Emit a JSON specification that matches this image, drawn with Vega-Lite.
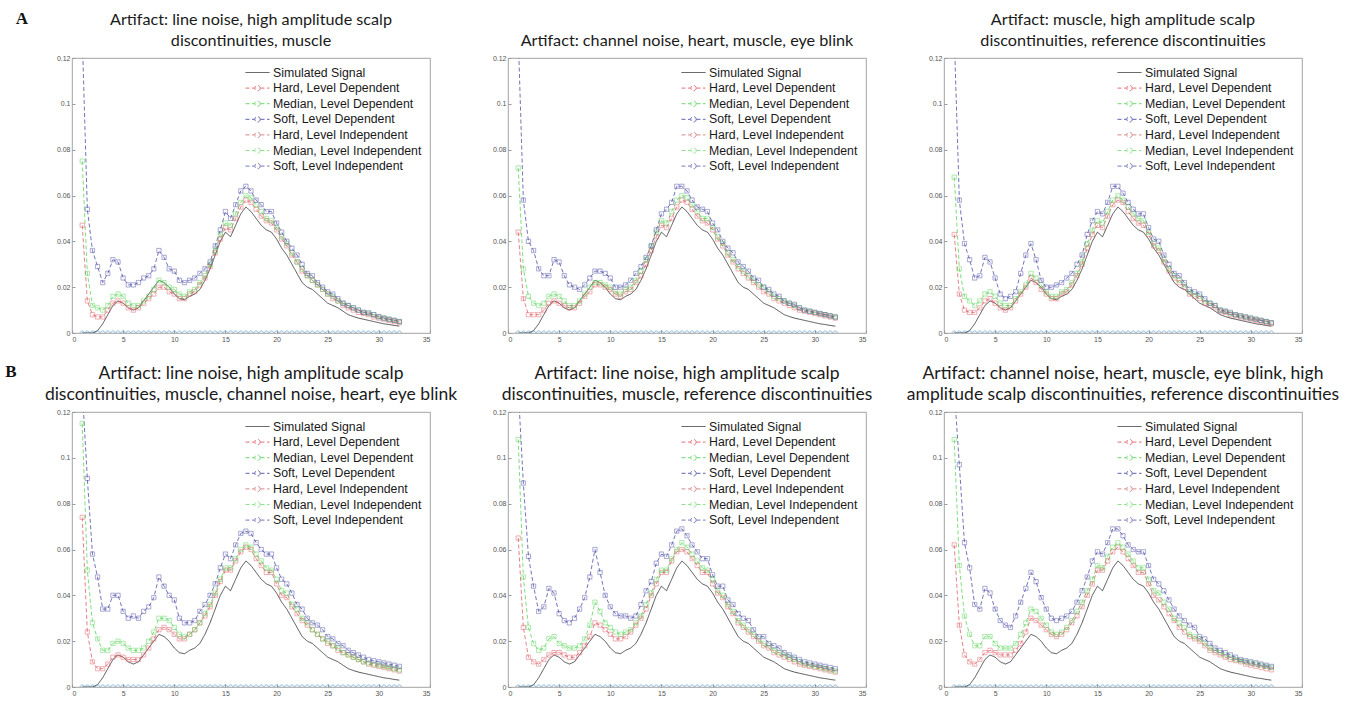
{
"$schema":"https://vega.github.io/schema/vega-lite/v6.json",
"padding":{"left":5,"top":10,"right":5,"bottom":4},
"background":"white",
"config":{
 "view":{"stroke":"#8a8a8a","strokeWidth":0.8},
 "axis":{"labelFontSize":7,"labelColor":"#555","labelFont":"Liberation Sans","grid":false,"domain":false,"tickColor":"#999","tickSize":-3,"labelPadding":5,"title":null},
 "title":{"font":"Lato","fontSize":16.2,"fontWeight":400,"color":"#1a1a1a","lineHeight":21,"offset":5,"anchor":"middle"},
 "legend":{"orient":"top-right","offset":8,"title":null,"padding":0,"labelFont":"Liberation Sans","labelFontSize":12.3,"labelColor":"#1a1a1a","symbolSize":144,"rowPadding":2.6,"labelOffset":9,"symbolStrokeWidth":0.9,"labelLimit":300}
},
"datasets":{"d":[
{"p":"A1","x":1,"s":0,"h":0.047,"m":0.075,"o":0.13},
{"p":"A1","x":1.5,"s":0,"h":0.014,"m":0.026,"o":0.054},
{"p":"A1","x":2,"s":0,"h":0.008,"m":0.012,"o":0.036},
{"p":"A1","x":2.5,"s":0.001,"h":0.007,"m":0.011,"o":0.029},
{"p":"A1","x":3,"s":0.004,"h":0.007,"m":0.010,"o":0.022},
{"p":"A1","x":3.5,"s":0.008,"h":0.010,"m":0.012,"o":0.026},
{"p":"A1","x":4,"s":0.012,"h":0.013,"m":0.016,"o":0.032},
{"p":"A1","x":4.5,"s":0.014,"h":0.014,"m":0.017,"o":0.031},
{"p":"A1","x":5,"s":0.013,"h":0.013,"m":0.016,"o":0.024},
{"p":"A1","x":5.5,"s":0.011,"h":0.011,"m":0.013,"o":0.021},
{"p":"A1","x":6,"s":0.010,"h":0.010,"m":0.012,"o":0.021},
{"p":"A1","x":6.5,"s":0.011,"h":0.011,"m":0.012,"o":0.022},
{"p":"A1","x":7,"s":0.014,"h":0.013,"m":0.014,"o":0.024},
{"p":"A1","x":7.5,"s":0.017,"h":0.015,"m":0.016,"o":0.025},
{"p":"A1","x":8,"s":0.020,"h":0.017,"m":0.019,"o":0.028},
{"p":"A1","x":8.5,"s":0.023,"h":0.020,"m":0.023,"o":0.036},
{"p":"A1","x":9,"s":0.022,"h":0.020,"m":0.022,"o":0.033},
{"p":"A1","x":9.5,"s":0.020,"h":0.018,"m":0.020,"o":0.028},
{"p":"A1","x":10,"s":0.017,"h":0.017,"m":0.019,"o":0.027},
{"p":"A1","x":10.5,"s":0.015,"h":0.015,"m":0.017,"o":0.023},
{"p":"A1","x":11,"s":0.0145,"h":0.015,"m":0.016,"o":0.022},
{"p":"A1","x":11.5,"s":0.016,"h":0.017,"m":0.018,"o":0.023},
{"p":"A1","x":12,"s":0.017,"h":0.018,"m":0.019,"o":0.024},
{"p":"A1","x":12.5,"s":0.019,"h":0.021,"m":0.022,"o":0.026},
{"p":"A1","x":13,"s":0.023,"h":0.024,"m":0.025,"o":0.028},
{"p":"A1","x":13.5,"s":0.028,"h":0.029,"m":0.030,"o":0.031},
{"p":"A1","x":14,"s":0.034,"h":0.035,"m":0.036,"o":0.038},
{"p":"A1","x":14.5,"s":0.040,"h":0.041,"m":0.043,"o":0.045},
{"p":"A1","x":15,"s":0.044,"h":0.046,"m":0.048,"o":0.053},
{"p":"A1","x":15.5,"s":0.042,"h":0.045,"m":0.047,"o":0.050},
{"p":"A1","x":16,"s":0.047,"h":0.050,"m":0.052,"o":0.056},
{"p":"A1","x":16.5,"s":0.052,"h":0.055,"m":0.057,"o":0.062},
{"p":"A1","x":17,"s":0.055,"h":0.058,"m":0.060,"o":0.064},
{"p":"A1","x":17.5,"s":0.053,"h":0.057,"m":0.059,"o":0.062},
{"p":"A1","x":18,"s":0.050,"h":0.054,"m":0.056,"o":0.058},
{"p":"A1","x":18.5,"s":0.047,"h":0.051,"m":0.053,"o":0.056},
{"p":"A1","x":19,"s":0.045,"h":0.049,"m":0.050,"o":0.053},
{"p":"A1","x":19.5,"s":0.044,"h":0.048,"m":0.049,"o":0.053},
{"p":"A1","x":20,"s":0.041,"h":0.045,"m":0.046,"o":0.048},
{"p":"A1","x":20.5,"s":0.037,"h":0.041,"m":0.042,"o":0.044},
{"p":"A1","x":21,"s":0.034,"h":0.038,"m":0.039,"o":0.040},
{"p":"A1","x":21.5,"s":0.030,"h":0.034,"m":0.035,"o":0.037},
{"p":"A1","x":22,"s":0.026,"h":0.031,"m":0.031,"o":0.034},
{"p":"A1","x":22.5,"s":0.022,"h":0.027,"m":0.028,"o":0.030},
{"p":"A1","x":23,"s":0.020,"h":0.025,"m":0.025,"o":0.026},
{"p":"A1","x":23.5,"s":0.019,"h":0.023,"m":0.023,"o":0.025},
{"p":"A1","x":24,"s":0.017,"h":0.021,"m":0.021,"o":0.022},
{"p":"A1","x":24.5,"s":0.015,"h":0.019,"m":0.019,"o":0.020},
{"p":"A1","x":25,"s":0.013,"h":0.017,"m":0.017,"o":0.018},
{"p":"A1","x":25.5,"s":0.012,"h":0.015,"m":0.016,"o":0.017},
{"p":"A1","x":26,"s":0.011,"h":0.014,"m":0.014,"o":0.015},
{"p":"A1","x":26.5,"s":0.0095,"h":0.012,"m":0.013,"o":0.013},
{"p":"A1","x":27,"s":0.008,"h":0.011,"m":0.012,"o":0.012},
{"p":"A1","x":27.5,"s":0.0072,"h":0.010,"m":0.011,"o":0.011},
{"p":"A1","x":28,"s":0.0065,"h":0.009,"m":0.010,"o":0.010},
{"p":"A1","x":28.5,"s":0.006,"h":0.0085,"m":0.009,"o":0.009},
{"p":"A1","x":29,"s":0.0055,"h":0.008,"m":0.0085,"o":0.0088},
{"p":"A1","x":29.5,"s":0.005,"h":0.007,"m":0.008,"o":0.008},
{"p":"A1","x":30,"s":0.0045,"h":0.0065,"m":0.007,"o":0.0072},
{"p":"A1","x":30.5,"s":0.004,"h":0.006,"m":0.0065,"o":0.0065},
{"p":"A1","x":31,"s":0.0037,"h":0.0055,"m":0.006,"o":0.006},
{"p":"A1","x":31.5,"s":0.0033,"h":0.005,"m":0.0055,"o":0.0055},
{"p":"A1","x":32,"s":0.003,"h":0.0045,"m":0.005,"o":0.005},
{"p":"A2","x":1,"s":0,"h":0.044,"m":0.072,"o":0.13},
{"p":"A2","x":1.5,"s":0,"h":0.015,"m":0.028,"o":0.058},
{"p":"A2","x":2,"s":0,"h":0.008,"m":0.016,"o":0.040},
{"p":"A2","x":2.5,"s":0.001,"h":0.008,"m":0.013,"o":0.036},
{"p":"A2","x":3,"s":0.004,"h":0.008,"m":0.012,"o":0.028},
{"p":"A2","x":3.5,"s":0.008,"h":0.010,"m":0.013,"o":0.025},
{"p":"A2","x":4,"s":0.012,"h":0.013,"m":0.016,"o":0.025},
{"p":"A2","x":4.5,"s":0.014,"h":0.014,"m":0.017,"o":0.032},
{"p":"A2","x":5,"s":0.013,"h":0.013,"m":0.016,"o":0.031},
{"p":"A2","x":5.5,"s":0.011,"h":0.012,"m":0.014,"o":0.025},
{"p":"A2","x":6,"s":0.010,"h":0.011,"m":0.012,"o":0.021},
{"p":"A2","x":6.5,"s":0.011,"h":0.011,"m":0.012,"o":0.020},
{"p":"A2","x":7,"s":0.014,"h":0.013,"m":0.014,"o":0.019},
{"p":"A2","x":7.5,"s":0.017,"h":0.016,"m":0.017,"o":0.021},
{"p":"A2","x":8,"s":0.020,"h":0.018,"m":0.020,"o":0.024},
{"p":"A2","x":8.5,"s":0.023,"h":0.021,"m":0.022,"o":0.027},
{"p":"A2","x":9,"s":0.022,"h":0.021,"m":0.022,"o":0.027},
{"p":"A2","x":9.5,"s":0.020,"h":0.020,"m":0.021,"o":0.026},
{"p":"A2","x":10,"s":0.017,"h":0.019,"m":0.020,"o":0.024},
{"p":"A2","x":10.5,"s":0.015,"h":0.017,"m":0.018,"o":0.020},
{"p":"A2","x":11,"s":0.0145,"h":0.016,"m":0.017,"o":0.020},
{"p":"A2","x":11.5,"s":0.016,"h":0.018,"m":0.019,"o":0.021},
{"p":"A2","x":12,"s":0.017,"h":0.019,"m":0.020,"o":0.023},
{"p":"A2","x":12.5,"s":0.019,"h":0.022,"m":0.023,"o":0.026},
{"p":"A2","x":13,"s":0.023,"h":0.025,"m":0.027,"o":0.029},
{"p":"A2","x":13.5,"s":0.028,"h":0.030,"m":0.032,"o":0.033},
{"p":"A2","x":14,"s":0.034,"h":0.036,"m":0.038,"o":0.038},
{"p":"A2","x":14.5,"s":0.040,"h":0.042,"m":0.044,"o":0.045},
{"p":"A2","x":15,"s":0.044,"h":0.047,"m":0.049,"o":0.052},
{"p":"A2","x":15.5,"s":0.042,"h":0.046,"m":0.048,"o":0.054},
{"p":"A2","x":16,"s":0.047,"h":0.050,"m":0.053,"o":0.057},
{"p":"A2","x":16.5,"s":0.052,"h":0.055,"m":0.058,"o":0.064},
{"p":"A2","x":17,"s":0.055,"h":0.058,"m":0.060,"o":0.064},
{"p":"A2","x":17.5,"s":0.053,"h":0.057,"m":0.059,"o":0.062},
{"p":"A2","x":18,"s":0.050,"h":0.054,"m":0.056,"o":0.058},
{"p":"A2","x":18.5,"s":0.047,"h":0.051,"m":0.053,"o":0.055},
{"p":"A2","x":19,"s":0.045,"h":0.049,"m":0.050,"o":0.054},
{"p":"A2","x":19.5,"s":0.044,"h":0.048,"m":0.050,"o":0.053},
{"p":"A2","x":20,"s":0.041,"h":0.045,"m":0.046,"o":0.048},
{"p":"A2","x":20.5,"s":0.037,"h":0.041,"m":0.042,"o":0.045},
{"p":"A2","x":21,"s":0.034,"h":0.038,"m":0.039,"o":0.040},
{"p":"A2","x":21.5,"s":0.030,"h":0.034,"m":0.035,"o":0.037},
{"p":"A2","x":22,"s":0.026,"h":0.031,"m":0.032,"o":0.035},
{"p":"A2","x":22.5,"s":0.022,"h":0.028,"m":0.029,"o":0.031},
{"p":"A2","x":23,"s":0.020,"h":0.026,"m":0.027,"o":0.029},
{"p":"A2","x":23.5,"s":0.019,"h":0.024,"m":0.025,"o":0.027},
{"p":"A2","x":24,"s":0.017,"h":0.022,"m":0.023,"o":0.024},
{"p":"A2","x":24.5,"s":0.015,"h":0.020,"m":0.021,"o":0.023},
{"p":"A2","x":25,"s":0.013,"h":0.018,"m":0.020,"o":0.020},
{"p":"A2","x":25.5,"s":0.012,"h":0.017,"m":0.018,"o":0.019},
{"p":"A2","x":26,"s":0.011,"h":0.015,"m":0.016,"o":0.017},
{"p":"A2","x":26.5,"s":0.0095,"h":0.014,"m":0.015,"o":0.016},
{"p":"A2","x":27,"s":0.008,"h":0.013,"m":0.014,"o":0.014},
{"p":"A2","x":27.5,"s":0.0072,"h":0.012,"m":0.013,"o":0.013},
{"p":"A2","x":28,"s":0.0065,"h":0.011,"m":0.012,"o":0.0125},
{"p":"A2","x":28.5,"s":0.006,"h":0.010,"m":0.011,"o":0.011},
{"p":"A2","x":29,"s":0.0055,"h":0.0095,"m":0.010,"o":0.010},
{"p":"A2","x":29.5,"s":0.005,"h":0.009,"m":0.0095,"o":0.0095},
{"p":"A2","x":30,"s":0.0045,"h":0.0085,"m":0.009,"o":0.009},
{"p":"A2","x":30.5,"s":0.004,"h":0.008,"m":0.0085,"o":0.0085},
{"p":"A2","x":31,"s":0.0037,"h":0.0075,"m":0.008,"o":0.008},
{"p":"A2","x":31.5,"s":0.0033,"h":0.007,"m":0.0075,"o":0.0075},
{"p":"A2","x":32,"s":0.003,"h":0.0065,"m":0.007,"o":0.007},
{"p":"A3","x":1,"s":0,"h":0.043,"m":0.068,"o":0.13},
{"p":"A3","x":1.5,"s":0,"h":0.017,"m":0.028,"o":0.058},
{"p":"A3","x":2,"s":0,"h":0.010,"m":0.016,"o":0.039},
{"p":"A3","x":2.5,"s":0.001,"h":0.009,"m":0.014,"o":0.032},
{"p":"A3","x":3,"s":0.004,"h":0.009,"m":0.012,"o":0.024},
{"p":"A3","x":3.5,"s":0.008,"h":0.011,"m":0.014,"o":0.025},
{"p":"A3","x":4,"s":0.012,"h":0.014,"m":0.017,"o":0.033},
{"p":"A3","x":4.5,"s":0.014,"h":0.015,"m":0.018,"o":0.031},
{"p":"A3","x":5,"s":0.013,"h":0.013,"m":0.016,"o":0.024},
{"p":"A3","x":5.5,"s":0.011,"h":0.011,"m":0.013,"o":0.017},
{"p":"A3","x":6,"s":0.010,"h":0.010,"m":0.012,"o":0.015},
{"p":"A3","x":6.5,"s":0.011,"h":0.011,"m":0.012,"o":0.016},
{"p":"A3","x":7,"s":0.014,"h":0.014,"m":0.015,"o":0.018},
{"p":"A3","x":7.5,"s":0.017,"h":0.017,"m":0.018,"o":0.026},
{"p":"A3","x":8,"s":0.020,"h":0.020,"m":0.021,"o":0.034},
{"p":"A3","x":8.5,"s":0.023,"h":0.024,"m":0.026,"o":0.039},
{"p":"A3","x":9,"s":0.022,"h":0.022,"m":0.024,"o":0.032},
{"p":"A3","x":9.5,"s":0.020,"h":0.019,"m":0.021,"o":0.023},
{"p":"A3","x":10,"s":0.017,"h":0.017,"m":0.018,"o":0.020},
{"p":"A3","x":10.5,"s":0.015,"h":0.015,"m":0.016,"o":0.020},
{"p":"A3","x":11,"s":0.0145,"h":0.015,"m":0.016,"o":0.021},
{"p":"A3","x":11.5,"s":0.016,"h":0.017,"m":0.018,"o":0.022},
{"p":"A3","x":12,"s":0.017,"h":0.018,"m":0.019,"o":0.024},
{"p":"A3","x":12.5,"s":0.019,"h":0.021,"m":0.022,"o":0.026},
{"p":"A3","x":13,"s":0.023,"h":0.025,"m":0.026,"o":0.030},
{"p":"A3","x":13.5,"s":0.028,"h":0.030,"m":0.031,"o":0.034},
{"p":"A3","x":14,"s":0.034,"h":0.037,"m":0.039,"o":0.043},
{"p":"A3","x":14.5,"s":0.040,"h":0.043,"m":0.045,"o":0.049},
{"p":"A3","x":15,"s":0.044,"h":0.047,"m":0.049,"o":0.053},
{"p":"A3","x":15.5,"s":0.042,"h":0.046,"m":0.048,"o":0.052},
{"p":"A3","x":16,"s":0.047,"h":0.051,"m":0.053,"o":0.057},
{"p":"A3","x":16.5,"s":0.052,"h":0.056,"m":0.058,"o":0.064},
{"p":"A3","x":17,"s":0.055,"h":0.058,"m":0.060,"o":0.064},
{"p":"A3","x":17.5,"s":0.053,"h":0.057,"m":0.058,"o":0.061},
{"p":"A3","x":18,"s":0.050,"h":0.053,"m":0.055,"o":0.057},
{"p":"A3","x":18.5,"s":0.047,"h":0.050,"m":0.052,"o":0.054},
{"p":"A3","x":19,"s":0.045,"h":0.048,"m":0.050,"o":0.052},
{"p":"A3","x":19.5,"s":0.044,"h":0.047,"m":0.049,"o":0.052},
{"p":"A3","x":20,"s":0.041,"h":0.043,"m":0.044,"o":0.046},
{"p":"A3","x":20.5,"s":0.037,"h":0.038,"m":0.039,"o":0.041},
{"p":"A3","x":21,"s":0.034,"h":0.036,"m":0.037,"o":0.040},
{"p":"A3","x":21.5,"s":0.030,"h":0.031,"m":0.032,"o":0.034},
{"p":"A3","x":22,"s":0.026,"h":0.027,"m":0.028,"o":0.030},
{"p":"A3","x":22.5,"s":0.022,"h":0.024,"m":0.025,"o":0.026},
{"p":"A3","x":23,"s":0.020,"h":0.022,"m":0.023,"o":0.025},
{"p":"A3","x":23.5,"s":0.019,"h":0.020,"m":0.021,"o":0.022},
{"p":"A3","x":24,"s":0.017,"h":0.017,"m":0.018,"o":0.019},
{"p":"A3","x":24.5,"s":0.015,"h":0.016,"m":0.017,"o":0.018},
{"p":"A3","x":25,"s":0.013,"h":0.015,"m":0.016,"o":0.017},
{"p":"A3","x":25.5,"s":0.012,"h":0.013,"m":0.014,"o":0.015},
{"p":"A3","x":26,"s":0.011,"h":0.012,"m":0.013,"o":0.013},
{"p":"A3","x":26.5,"s":0.0095,"h":0.011,"m":0.012,"o":0.012},
{"p":"A3","x":27,"s":0.008,"h":0.0095,"m":0.010,"o":0.010},
{"p":"A3","x":27.5,"s":0.0072,"h":0.009,"m":0.0095,"o":0.0095},
{"p":"A3","x":28,"s":0.0065,"h":0.008,"m":0.0085,"o":0.009},
{"p":"A3","x":28.5,"s":0.006,"h":0.0075,"m":0.008,"o":0.008},
{"p":"A3","x":29,"s":0.0055,"h":0.007,"m":0.0075,"o":0.0075},
{"p":"A3","x":29.5,"s":0.005,"h":0.0065,"m":0.007,"o":0.007},
{"p":"A3","x":30,"s":0.0045,"h":0.006,"m":0.0065,"o":0.0065},
{"p":"A3","x":30.5,"s":0.004,"h":0.0055,"m":0.006,"o":0.006},
{"p":"A3","x":31,"s":0.0037,"h":0.005,"m":0.0055,"o":0.0055},
{"p":"A3","x":31.5,"s":0.0033,"h":0.0045,"m":0.005,"o":0.005},
{"p":"A3","x":32,"s":0.003,"h":0.004,"m":0.0045,"o":0.0045},
{"p":"B1","x":1,"s":0,"h":0.074,"m":0.115,"o":0.13},
{"p":"B1","x":1.5,"s":0,"h":0.024,"m":0.051,"o":0.091},
{"p":"B1","x":2,"s":0,"h":0.011,"m":0.028,"o":0.058},
{"p":"B1","x":2.5,"s":0.001,"h":0.008,"m":0.021,"o":0.048},
{"p":"B1","x":3,"s":0.004,"h":0.008,"m":0.016,"o":0.034},
{"p":"B1","x":3.5,"s":0.008,"h":0.010,"m":0.016,"o":0.034},
{"p":"B1","x":4,"s":0.012,"h":0.013,"m":0.019,"o":0.040},
{"p":"B1","x":4.5,"s":0.014,"h":0.014,"m":0.020,"o":0.040},
{"p":"B1","x":5,"s":0.013,"h":0.013,"m":0.019,"o":0.033},
{"p":"B1","x":5.5,"s":0.011,"h":0.012,"m":0.017,"o":0.030},
{"p":"B1","x":6,"s":0.010,"h":0.012,"m":0.016,"o":0.031},
{"p":"B1","x":6.5,"s":0.011,"h":0.012,"m":0.016,"o":0.030},
{"p":"B1","x":7,"s":0.014,"h":0.014,"m":0.017,"o":0.033},
{"p":"B1","x":7.5,"s":0.017,"h":0.017,"m":0.020,"o":0.035},
{"p":"B1","x":8,"s":0.020,"h":0.021,"m":0.024,"o":0.039},
{"p":"B1","x":8.5,"s":0.023,"h":0.025,"m":0.030,"o":0.048},
{"p":"B1","x":9,"s":0.022,"h":0.026,"m":0.030,"o":0.044},
{"p":"B1","x":9.5,"s":0.020,"h":0.025,"m":0.029,"o":0.040},
{"p":"B1","x":10,"s":0.017,"h":0.023,"m":0.026,"o":0.038},
{"p":"B1","x":10.5,"s":0.015,"h":0.021,"m":0.023,"o":0.030},
{"p":"B1","x":11,"s":0.0145,"h":0.021,"m":0.022,"o":0.028},
{"p":"B1","x":11.5,"s":0.016,"h":0.023,"m":0.023,"o":0.028},
{"p":"B1","x":12,"s":0.017,"h":0.025,"m":0.025,"o":0.029},
{"p":"B1","x":12.5,"s":0.019,"h":0.028,"m":0.028,"o":0.033},
{"p":"B1","x":13,"s":0.023,"h":0.031,"m":0.032,"o":0.036},
{"p":"B1","x":13.5,"s":0.028,"h":0.035,"m":0.036,"o":0.040},
{"p":"B1","x":14,"s":0.034,"h":0.040,"m":0.041,"o":0.045},
{"p":"B1","x":14.5,"s":0.040,"h":0.046,"m":0.047,"o":0.052},
{"p":"B1","x":15,"s":0.044,"h":0.051,"m":0.052,"o":0.058},
{"p":"B1","x":15.5,"s":0.042,"h":0.051,"m":0.052,"o":0.056},
{"p":"B1","x":16,"s":0.047,"h":0.055,"m":0.056,"o":0.062},
{"p":"B1","x":16.5,"s":0.052,"h":0.059,"m":0.060,"o":0.067},
{"p":"B1","x":17,"s":0.055,"h":0.061,"m":0.062,"o":0.068},
{"p":"B1","x":17.5,"s":0.053,"h":0.060,"m":0.061,"o":0.067},
{"p":"B1","x":18,"s":0.050,"h":0.056,"m":0.058,"o":0.063},
{"p":"B1","x":18.5,"s":0.047,"h":0.053,"m":0.055,"o":0.060},
{"p":"B1","x":19,"s":0.045,"h":0.050,"m":0.052,"o":0.058},
{"p":"B1","x":19.5,"s":0.044,"h":0.050,"m":0.051,"o":0.058},
{"p":"B1","x":20,"s":0.041,"h":0.045,"m":0.047,"o":0.052},
{"p":"B1","x":20.5,"s":0.037,"h":0.040,"m":0.042,"o":0.047},
{"p":"B1","x":21,"s":0.034,"h":0.039,"m":0.041,"o":0.045},
{"p":"B1","x":21.5,"s":0.030,"h":0.035,"m":0.036,"o":0.041},
{"p":"B1","x":22,"s":0.026,"h":0.032,"m":0.034,"o":0.036},
{"p":"B1","x":22.5,"s":0.022,"h":0.029,"m":0.030,"o":0.034},
{"p":"B1","x":23,"s":0.020,"h":0.027,"m":0.028,"o":0.030},
{"p":"B1","x":23.5,"s":0.019,"h":0.025,"m":0.025,"o":0.028},
{"p":"B1","x":24,"s":0.017,"h":0.023,"m":0.023,"o":0.027},
{"p":"B1","x":24.5,"s":0.015,"h":0.021,"m":0.021,"o":0.025},
{"p":"B1","x":25,"s":0.013,"h":0.019,"m":0.020,"o":0.022},
{"p":"B1","x":25.5,"s":0.012,"h":0.018,"m":0.018,"o":0.021},
{"p":"B1","x":26,"s":0.011,"h":0.016,"m":0.017,"o":0.019},
{"p":"B1","x":26.5,"s":0.0095,"h":0.015,"m":0.015,"o":0.018},
{"p":"B1","x":27,"s":0.008,"h":0.014,"m":0.014,"o":0.016},
{"p":"B1","x":27.5,"s":0.0072,"h":0.013,"m":0.013,"o":0.015},
{"p":"B1","x":28,"s":0.0065,"h":0.012,"m":0.012,"o":0.014},
{"p":"B1","x":28.5,"s":0.006,"h":0.011,"m":0.011,"o":0.013},
{"p":"B1","x":29,"s":0.0055,"h":0.010,"m":0.0105,"o":0.012},
{"p":"B1","x":29.5,"s":0.005,"h":0.0095,"m":0.010,"o":0.0115},
{"p":"B1","x":30,"s":0.0045,"h":0.009,"m":0.0095,"o":0.011},
{"p":"B1","x":30.5,"s":0.004,"h":0.0085,"m":0.009,"o":0.0105},
{"p":"B1","x":31,"s":0.0037,"h":0.008,"m":0.0085,"o":0.010},
{"p":"B1","x":31.5,"s":0.0033,"h":0.0075,"m":0.008,"o":0.0095},
{"p":"B1","x":32,"s":0.003,"h":0.007,"m":0.0075,"o":0.009},
{"p":"B2","x":1,"s":0,"h":0.065,"m":0.108,"o":0.13},
{"p":"B2","x":1.5,"s":0,"h":0.026,"m":0.048,"o":0.089},
{"p":"B2","x":2,"s":0,"h":0.013,"m":0.026,"o":0.057},
{"p":"B2","x":2.5,"s":0.001,"h":0.011,"m":0.019,"o":0.044},
{"p":"B2","x":3,"s":0.004,"h":0.010,"m":0.016,"o":0.033},
{"p":"B2","x":3.5,"s":0.008,"h":0.012,"m":0.017,"o":0.035},
{"p":"B2","x":4,"s":0.012,"h":0.014,"m":0.021,"o":0.043},
{"p":"B2","x":4.5,"s":0.014,"h":0.015,"m":0.022,"o":0.041},
{"p":"B2","x":5,"s":0.013,"h":0.015,"m":0.019,"o":0.032},
{"p":"B2","x":5.5,"s":0.011,"h":0.014,"m":0.018,"o":0.029},
{"p":"B2","x":6,"s":0.010,"h":0.013,"m":0.017,"o":0.028},
{"p":"B2","x":6.5,"s":0.011,"h":0.013,"m":0.017,"o":0.030},
{"p":"B2","x":7,"s":0.014,"h":0.015,"m":0.018,"o":0.034},
{"p":"B2","x":7.5,"s":0.017,"h":0.018,"m":0.021,"o":0.039},
{"p":"B2","x":8,"s":0.020,"h":0.022,"m":0.027,"o":0.048},
{"p":"B2","x":8.5,"s":0.023,"h":0.028,"m":0.037,"o":0.060},
{"p":"B2","x":9,"s":0.022,"h":0.027,"m":0.033,"o":0.050},
{"p":"B2","x":9.5,"s":0.020,"h":0.025,"m":0.028,"o":0.040},
{"p":"B2","x":10,"s":0.017,"h":0.023,"m":0.026,"o":0.035},
{"p":"B2","x":10.5,"s":0.015,"h":0.021,"m":0.024,"o":0.032},
{"p":"B2","x":11,"s":0.0145,"h":0.021,"m":0.023,"o":0.031},
{"p":"B2","x":11.5,"s":0.016,"h":0.022,"m":0.024,"o":0.031},
{"p":"B2","x":12,"s":0.017,"h":0.024,"m":0.025,"o":0.030},
{"p":"B2","x":12.5,"s":0.019,"h":0.027,"m":0.028,"o":0.031},
{"p":"B2","x":13,"s":0.023,"h":0.030,"m":0.031,"o":0.036},
{"p":"B2","x":13.5,"s":0.028,"h":0.034,"m":0.036,"o":0.042},
{"p":"B2","x":14,"s":0.034,"h":0.040,"m":0.041,"o":0.046},
{"p":"B2","x":14.5,"s":0.040,"h":0.045,"m":0.047,"o":0.054},
{"p":"B2","x":15,"s":0.044,"h":0.050,"m":0.051,"o":0.058},
{"p":"B2","x":15.5,"s":0.042,"h":0.050,"m":0.051,"o":0.057},
{"p":"B2","x":16,"s":0.047,"h":0.055,"m":0.056,"o":0.062},
{"p":"B2","x":16.5,"s":0.052,"h":0.059,"m":0.060,"o":0.068},
{"p":"B2","x":17,"s":0.055,"h":0.060,"m":0.063,"o":0.069},
{"p":"B2","x":17.5,"s":0.053,"h":0.059,"m":0.061,"o":0.066},
{"p":"B2","x":18,"s":0.050,"h":0.056,"m":0.058,"o":0.062},
{"p":"B2","x":18.5,"s":0.047,"h":0.053,"m":0.055,"o":0.059},
{"p":"B2","x":19,"s":0.045,"h":0.050,"m":0.052,"o":0.056},
{"p":"B2","x":19.5,"s":0.044,"h":0.050,"m":0.051,"o":0.056},
{"p":"B2","x":20,"s":0.041,"h":0.045,"m":0.047,"o":0.049},
{"p":"B2","x":20.5,"s":0.037,"h":0.041,"m":0.042,"o":0.044},
{"p":"B2","x":21,"s":0.034,"h":0.039,"m":0.040,"o":0.044},
{"p":"B2","x":21.5,"s":0.030,"h":0.035,"m":0.036,"o":0.038},
{"p":"B2","x":22,"s":0.026,"h":0.032,"m":0.033,"o":0.036},
{"p":"B2","x":22.5,"s":0.022,"h":0.028,"m":0.029,"o":0.032},
{"p":"B2","x":23,"s":0.020,"h":0.026,"m":0.027,"o":0.030},
{"p":"B2","x":23.5,"s":0.019,"h":0.024,"m":0.025,"o":0.029},
{"p":"B2","x":24,"s":0.017,"h":0.022,"m":0.023,"o":0.025},
{"p":"B2","x":24.5,"s":0.015,"h":0.020,"m":0.021,"o":0.022},
{"p":"B2","x":25,"s":0.013,"h":0.018,"m":0.019,"o":0.022},
{"p":"B2","x":25.5,"s":0.012,"h":0.017,"m":0.018,"o":0.019},
{"p":"B2","x":26,"s":0.011,"h":0.015,"m":0.016,"o":0.018},
{"p":"B2","x":26.5,"s":0.0095,"h":0.014,"m":0.015,"o":0.017},
{"p":"B2","x":27,"s":0.008,"h":0.013,"m":0.014,"o":0.015},
{"p":"B2","x":27.5,"s":0.0072,"h":0.012,"m":0.013,"o":0.014},
{"p":"B2","x":28,"s":0.0065,"h":0.011,"m":0.012,"o":0.013},
{"p":"B2","x":28.5,"s":0.006,"h":0.010,"m":0.011,"o":0.012},
{"p":"B2","x":29,"s":0.0055,"h":0.0095,"m":0.010,"o":0.011},
{"p":"B2","x":29.5,"s":0.005,"h":0.009,"m":0.0095,"o":0.0105},
{"p":"B2","x":30,"s":0.0045,"h":0.0085,"m":0.009,"o":0.010},
{"p":"B2","x":30.5,"s":0.004,"h":0.008,"m":0.0085,"o":0.0095},
{"p":"B2","x":31,"s":0.0037,"h":0.0075,"m":0.008,"o":0.009},
{"p":"B2","x":31.5,"s":0.0033,"h":0.007,"m":0.0075,"o":0.0085},
{"p":"B2","x":32,"s":0.003,"h":0.0065,"m":0.007,"o":0.008},
{"p":"B3","x":1,"s":0,"h":0.062,"m":0.108,"o":0.13},
{"p":"B3","x":1.5,"s":0,"h":0.027,"m":0.053,"o":0.097},
{"p":"B3","x":2,"s":0,"h":0.014,"m":0.031,"o":0.063},
{"p":"B3","x":2.5,"s":0.001,"h":0.011,"m":0.023,"o":0.052},
{"p":"B3","x":3,"s":0.004,"h":0.010,"m":0.018,"o":0.036},
{"p":"B3","x":3.5,"s":0.008,"h":0.012,"m":0.018,"o":0.034},
{"p":"B3","x":4,"s":0.012,"h":0.015,"m":0.022,"o":0.043},
{"p":"B3","x":4.5,"s":0.014,"h":0.016,"m":0.022,"o":0.041},
{"p":"B3","x":5,"s":0.013,"h":0.015,"m":0.019,"o":0.034},
{"p":"B3","x":5.5,"s":0.011,"h":0.014,"m":0.017,"o":0.029},
{"p":"B3","x":6,"s":0.010,"h":0.014,"m":0.017,"o":0.027},
{"p":"B3","x":6.5,"s":0.011,"h":0.014,"m":0.017,"o":0.026},
{"p":"B3","x":7,"s":0.014,"h":0.016,"m":0.019,"o":0.031},
{"p":"B3","x":7.5,"s":0.017,"h":0.019,"m":0.023,"o":0.037},
{"p":"B3","x":8,"s":0.020,"h":0.024,"m":0.028,"o":0.043},
{"p":"B3","x":8.5,"s":0.023,"h":0.030,"m":0.034,"o":0.050},
{"p":"B3","x":9,"s":0.022,"h":0.029,"m":0.033,"o":0.046},
{"p":"B3","x":9.5,"s":0.020,"h":0.027,"m":0.030,"o":0.039},
{"p":"B3","x":10,"s":0.017,"h":0.025,"m":0.027,"o":0.034},
{"p":"B3","x":10.5,"s":0.015,"h":0.023,"m":0.024,"o":0.030},
{"p":"B3","x":11,"s":0.0145,"h":0.022,"m":0.023,"o":0.029},
{"p":"B3","x":11.5,"s":0.016,"h":0.023,"m":0.024,"o":0.030},
{"p":"B3","x":12,"s":0.017,"h":0.025,"m":0.026,"o":0.031},
{"p":"B3","x":12.5,"s":0.019,"h":0.028,"m":0.029,"o":0.033},
{"p":"B3","x":13,"s":0.023,"h":0.031,"m":0.033,"o":0.037},
{"p":"B3","x":13.5,"s":0.028,"h":0.035,"m":0.037,"o":0.042},
{"p":"B3","x":14,"s":0.034,"h":0.040,"m":0.042,"o":0.048},
{"p":"B3","x":14.5,"s":0.040,"h":0.045,"m":0.047,"o":0.055},
{"p":"B3","x":15,"s":0.044,"h":0.051,"m":0.053,"o":0.059},
{"p":"B3","x":15.5,"s":0.042,"h":0.051,"m":0.052,"o":0.058},
{"p":"B3","x":16,"s":0.047,"h":0.055,"m":0.057,"o":0.063},
{"p":"B3","x":16.5,"s":0.052,"h":0.059,"m":0.061,"o":0.069},
{"p":"B3","x":17,"s":0.055,"h":0.061,"m":0.063,"o":0.069},
{"p":"B3","x":17.5,"s":0.053,"h":0.059,"m":0.061,"o":0.066},
{"p":"B3","x":18,"s":0.050,"h":0.056,"m":0.058,"o":0.062},
{"p":"B3","x":18.5,"s":0.047,"h":0.053,"m":0.055,"o":0.060},
{"p":"B3","x":19,"s":0.045,"h":0.050,"m":0.052,"o":0.059},
{"p":"B3","x":19.5,"s":0.044,"h":0.050,"m":0.052,"o":0.059},
{"p":"B3","x":20,"s":0.041,"h":0.045,"m":0.047,"o":0.053},
{"p":"B3","x":20.5,"s":0.037,"h":0.040,"m":0.042,"o":0.047},
{"p":"B3","x":21,"s":0.034,"h":0.038,"m":0.041,"o":0.045},
{"p":"B3","x":21.5,"s":0.030,"h":0.035,"m":0.037,"o":0.042},
{"p":"B3","x":22,"s":0.026,"h":0.032,"m":0.034,"o":0.038},
{"p":"B3","x":22.5,"s":0.022,"h":0.029,"m":0.030,"o":0.034},
{"p":"B3","x":23,"s":0.020,"h":0.026,"m":0.028,"o":0.031},
{"p":"B3","x":23.5,"s":0.019,"h":0.024,"m":0.026,"o":0.029},
{"p":"B3","x":24,"s":0.017,"h":0.022,"m":0.023,"o":0.027},
{"p":"B3","x":24.5,"s":0.015,"h":0.021,"m":0.022,"o":0.026},
{"p":"B3","x":25,"s":0.013,"h":0.020,"m":0.021,"o":0.022},
{"p":"B3","x":25.5,"s":0.012,"h":0.018,"m":0.019,"o":0.021},
{"p":"B3","x":26,"s":0.011,"h":0.016,"m":0.017,"o":0.019},
{"p":"B3","x":26.5,"s":0.0095,"h":0.015,"m":0.016,"o":0.017},
{"p":"B3","x":27,"s":0.008,"h":0.014,"m":0.015,"o":0.016},
{"p":"B3","x":27.5,"s":0.0072,"h":0.013,"m":0.014,"o":0.015},
{"p":"B3","x":28,"s":0.0065,"h":0.012,"m":0.013,"o":0.014},
{"p":"B3","x":28.5,"s":0.006,"h":0.0115,"m":0.012,"o":0.013},
{"p":"B3","x":29,"s":0.0055,"h":0.011,"m":0.0115,"o":0.012},
{"p":"B3","x":29.5,"s":0.005,"h":0.010,"m":0.011,"o":0.0115},
{"p":"B3","x":30,"s":0.0045,"h":0.0095,"m":0.0105,"o":0.011},
{"p":"B3","x":30.5,"s":0.004,"h":0.009,"m":0.010,"o":0.0105},
{"p":"B3","x":31,"s":0.0037,"h":0.0085,"m":0.0095,"o":0.010},
{"p":"B3","x":31.5,"s":0.0033,"h":0.008,"m":0.009,"o":0.0095},
{"p":"B3","x":32,"s":0.003,"h":0.0075,"m":0.0085,"o":0.009}
]},
"resolve":{"scale":{"color":"independent","strokeDash":"independent"},"legend":{"color":"independent","strokeDash":"independent"}},
"vconcat":[
{"resolve":{"scale":{"color":"independent","strokeDash":"independent"},"legend":{"color":"independent","strokeDash":"independent"}},
 "hconcat":[
 {"title":{"text":["Artifact: line noise, high amplitude scalp","discontinuities, muscle"]},"width":358,"height":275,"data":{"name":"d"},"transform":[{"filter":"datum.p=='A1'"},{"fold":["s","h","m","o"],"as":["k","v"]}],
  "encoding":{"x":{"field":"x","type":"quantitative","scale":{"domain":[0,35],"nice":false},"axis":{"values":[0,5,10,15,20,25,30,35]}},"y":{"field":"v","type":"quantitative","scale":{"domain":[0,0.12],"nice":false},"axis":{"values":[0,0.02,0.04,0.06,0.08,0.1,0.12],"format":".2~f"}},
   "color":{"field":"k","type":"nominal","scale":{"domain":["s","h","m","o","h2","m2","o2"],"range":["#2a2a2a","#e0606a","#5cd65c","#5050aa","#d47a7a","#80e080","#6a6ab8"]},"legend":{"labelExpr":"{'s':'Simulated Signal','h':'Hard, Level Dependent','m':'Median, Level Dependent','o':'Soft, Level Dependent','h2':'Hard, Level Independent','m2':'Median, Level Independent','o2':'Soft, Level Independent'}[datum.value]","encode":{"symbols":{"update":{"shape":{"signal":"datum.value=='s' ? 'M-2,0H2' : 'M-2,0H-0.5M0.5,0H2M0.45,0A0.45,0.45,0,1,1,-0.45,0A0.45,0.45,0,1,1,0.45,0'"},"fill":{"value":"transparent"}}}}}},
   "strokeDash":{"field":"k","type":"nominal","scale":{"domain":["s","h","m","o","h2","m2","o2"],"range":[[1,0],[4,2.5],[4,2.5],[4,2.5],[4,2.5],[4,2.5],[4,2.5]]}}},
  "layer":[
   {"mark":{"type":"line","strokeWidth":0.8,"clip":true}},
   {"transform":[{"filter":"datum.k!='s'"}],"mark":{"type":"point","shape":"square","size":18,"strokeWidth":0.75,"filled":false,"clip":true},"encoding":{"strokeDash":{"value":[1,0]}}},
   {"transform":[{"filter":"datum.k=='s'"}],"mark":{"type":"point","shape":"circle","size":17,"strokeWidth":0.9,"filled":false,"clip":true},"encoding":{"y":{"datum":0},"color":{"value":"#4a8fc6"},"strokeDash":{"value":[1,0]}}}
  ]},
 {"title":{"text":"Artifact: channel noise, heart, muscle, eye blink"},"width":358,"height":275,"data":{"name":"d"},"transform":[{"filter":"datum.p=='A2'"},{"fold":["s","h","m","o"],"as":["k","v"]}],
  "encoding":{"x":{"field":"x","type":"quantitative","scale":{"domain":[0,35],"nice":false},"axis":{"values":[0,5,10,15,20,25,30,35]}},"y":{"field":"v","type":"quantitative","scale":{"domain":[0,0.12],"nice":false},"axis":{"values":[0,0.02,0.04,0.06,0.08,0.1,0.12],"format":".2~f"}},
   "color":{"field":"k","type":"nominal","scale":{"domain":["s","h","m","o","h2","m2","o2"],"range":["#2a2a2a","#e0606a","#5cd65c","#5050aa","#d47a7a","#80e080","#6a6ab8"]},"legend":{"labelExpr":"{'s':'Simulated Signal','h':'Hard, Level Dependent','m':'Median, Level Dependent','o':'Soft, Level Dependent','h2':'Hard, Level Independent','m2':'Median, Level Independent','o2':'Soft, Level Independent'}[datum.value]","encode":{"symbols":{"update":{"shape":{"signal":"datum.value=='s' ? 'M-2,0H2' : 'M-2,0H-0.5M0.5,0H2M0.45,0A0.45,0.45,0,1,1,-0.45,0A0.45,0.45,0,1,1,0.45,0'"},"fill":{"value":"transparent"}}}}}},
   "strokeDash":{"field":"k","type":"nominal","scale":{"domain":["s","h","m","o","h2","m2","o2"],"range":[[1,0],[4,2.5],[4,2.5],[4,2.5],[4,2.5],[4,2.5],[4,2.5]]}}},
  "layer":[
   {"mark":{"type":"line","strokeWidth":0.8,"clip":true}},
   {"transform":[{"filter":"datum.k!='s'"}],"mark":{"type":"point","shape":"square","size":18,"strokeWidth":0.75,"filled":false,"clip":true},"encoding":{"strokeDash":{"value":[1,0]}}},
   {"transform":[{"filter":"datum.k=='s'"}],"mark":{"type":"point","shape":"circle","size":17,"strokeWidth":0.9,"filled":false,"clip":true},"encoding":{"y":{"datum":0},"color":{"value":"#4a8fc6"},"strokeDash":{"value":[1,0]}}}
  ]},
 {"title":{"text":["Artifact: muscle, high amplitude scalp","discontinuities, reference discontinuities"]},"width":358,"height":275,"data":{"name":"d"},"transform":[{"filter":"datum.p=='A3'"},{"fold":["s","h","m","o"],"as":["k","v"]}],
  "encoding":{"x":{"field":"x","type":"quantitative","scale":{"domain":[0,35],"nice":false},"axis":{"values":[0,5,10,15,20,25,30,35]}},"y":{"field":"v","type":"quantitative","scale":{"domain":[0,0.12],"nice":false},"axis":{"values":[0,0.02,0.04,0.06,0.08,0.1,0.12],"format":".2~f"}},
   "color":{"field":"k","type":"nominal","scale":{"domain":["s","h","m","o","h2","m2","o2"],"range":["#2a2a2a","#e0606a","#5cd65c","#5050aa","#d47a7a","#80e080","#6a6ab8"]},"legend":{"labelExpr":"{'s':'Simulated Signal','h':'Hard, Level Dependent','m':'Median, Level Dependent','o':'Soft, Level Dependent','h2':'Hard, Level Independent','m2':'Median, Level Independent','o2':'Soft, Level Independent'}[datum.value]","encode":{"symbols":{"update":{"shape":{"signal":"datum.value=='s' ? 'M-2,0H2' : 'M-2,0H-0.5M0.5,0H2M0.45,0A0.45,0.45,0,1,1,-0.45,0A0.45,0.45,0,1,1,0.45,0'"},"fill":{"value":"transparent"}}}}}},
   "strokeDash":{"field":"k","type":"nominal","scale":{"domain":["s","h","m","o","h2","m2","o2"],"range":[[1,0],[4,2.5],[4,2.5],[4,2.5],[4,2.5],[4,2.5],[4,2.5]]}}},
  "layer":[
   {"mark":{"type":"line","strokeWidth":0.8,"clip":true}},
   {"transform":[{"filter":"datum.k!='s'"}],"mark":{"type":"point","shape":"square","size":18,"strokeWidth":0.75,"filled":false,"clip":true},"encoding":{"strokeDash":{"value":[1,0]}}},
   {"transform":[{"filter":"datum.k=='s'"}],"mark":{"type":"point","shape":"circle","size":17,"strokeWidth":0.9,"filled":false,"clip":true},"encoding":{"y":{"datum":0},"color":{"value":"#4a8fc6"},"strokeDash":{"value":[1,0]}}}
  ]}
 ],"spacing":78,"bounds":"flush","title":{"text":"A","orient":"left","anchor":"end","angle":0,"font":"Liberation Serif","fontSize":17,"fontWeight":"bold","color":"#111","offset":28,"baseline":"top","align":"left"}},
{"resolve":{"scale":{"color":"independent","strokeDash":"independent"},"legend":{"color":"independent","strokeDash":"independent"}},
 "hconcat":[
 {"title":{"text":["Artifact: line noise, high amplitude scalp","discontinuities, muscle, channel noise, heart, eye blink"],"fontSize":17.5},"width":358,"height":275,"data":{"name":"d"},"transform":[{"filter":"datum.p=='B1'"},{"fold":["s","h","m","o"],"as":["k","v"]}],
  "encoding":{"x":{"field":"x","type":"quantitative","scale":{"domain":[0,35],"nice":false},"axis":{"values":[0,5,10,15,20,25,30,35]}},"y":{"field":"v","type":"quantitative","scale":{"domain":[0,0.12],"nice":false},"axis":{"values":[0,0.02,0.04,0.06,0.08,0.1,0.12],"format":".2~f"}},
   "color":{"field":"k","type":"nominal","scale":{"domain":["s","h","m","o","h2","m2","o2"],"range":["#2a2a2a","#e0606a","#5cd65c","#5050aa","#d47a7a","#80e080","#6a6ab8"]},"legend":{"labelExpr":"{'s':'Simulated Signal','h':'Hard, Level Dependent','m':'Median, Level Dependent','o':'Soft, Level Dependent','h2':'Hard, Level Independent','m2':'Median, Level Independent','o2':'Soft, Level Independent'}[datum.value]","encode":{"symbols":{"update":{"shape":{"signal":"datum.value=='s' ? 'M-2,0H2' : 'M-2,0H-0.5M0.5,0H2M0.45,0A0.45,0.45,0,1,1,-0.45,0A0.45,0.45,0,1,1,0.45,0'"},"fill":{"value":"transparent"}}}}}},
   "strokeDash":{"field":"k","type":"nominal","scale":{"domain":["s","h","m","o","h2","m2","o2"],"range":[[1,0],[4,2.5],[4,2.5],[4,2.5],[4,2.5],[4,2.5],[4,2.5]]}}},
  "layer":[
   {"mark":{"type":"line","strokeWidth":0.8,"clip":true}},
   {"transform":[{"filter":"datum.k!='s'"}],"mark":{"type":"point","shape":"square","size":18,"strokeWidth":0.75,"filled":false,"clip":true},"encoding":{"strokeDash":{"value":[1,0]}}},
   {"transform":[{"filter":"datum.k=='s'"}],"mark":{"type":"point","shape":"circle","size":17,"strokeWidth":0.9,"filled":false,"clip":true},"encoding":{"y":{"datum":0},"color":{"value":"#4a8fc6"},"strokeDash":{"value":[1,0]}}}
  ]},
 {"title":{"text":["Artifact: line noise, high amplitude scalp","discontinuities, muscle, reference discontinuities"],"fontSize":17.5},"width":358,"height":275,"data":{"name":"d"},"transform":[{"filter":"datum.p=='B2'"},{"fold":["s","h","m","o"],"as":["k","v"]}],
  "encoding":{"x":{"field":"x","type":"quantitative","scale":{"domain":[0,35],"nice":false},"axis":{"values":[0,5,10,15,20,25,30,35]}},"y":{"field":"v","type":"quantitative","scale":{"domain":[0,0.12],"nice":false},"axis":{"values":[0,0.02,0.04,0.06,0.08,0.1,0.12],"format":".2~f"}},
   "color":{"field":"k","type":"nominal","scale":{"domain":["s","h","m","o","h2","m2","o2"],"range":["#2a2a2a","#e0606a","#5cd65c","#5050aa","#d47a7a","#80e080","#6a6ab8"]},"legend":{"labelExpr":"{'s':'Simulated Signal','h':'Hard, Level Dependent','m':'Median, Level Dependent','o':'Soft, Level Dependent','h2':'Hard, Level Independent','m2':'Median, Level Independent','o2':'Soft, Level Independent'}[datum.value]","encode":{"symbols":{"update":{"shape":{"signal":"datum.value=='s' ? 'M-2,0H2' : 'M-2,0H-0.5M0.5,0H2M0.45,0A0.45,0.45,0,1,1,-0.45,0A0.45,0.45,0,1,1,0.45,0'"},"fill":{"value":"transparent"}}}}}},
   "strokeDash":{"field":"k","type":"nominal","scale":{"domain":["s","h","m","o","h2","m2","o2"],"range":[[1,0],[4,2.5],[4,2.5],[4,2.5],[4,2.5],[4,2.5],[4,2.5]]}}},
  "layer":[
   {"mark":{"type":"line","strokeWidth":0.8,"clip":true}},
   {"transform":[{"filter":"datum.k!='s'"}],"mark":{"type":"point","shape":"square","size":18,"strokeWidth":0.75,"filled":false,"clip":true},"encoding":{"strokeDash":{"value":[1,0]}}},
   {"transform":[{"filter":"datum.k=='s'"}],"mark":{"type":"point","shape":"circle","size":17,"strokeWidth":0.9,"filled":false,"clip":true},"encoding":{"y":{"datum":0},"color":{"value":"#4a8fc6"},"strokeDash":{"value":[1,0]}}}
  ]},
 {"title":{"text":["Artifact: channel noise, heart, muscle, eye blink, high","amplitude scalp discontinuities, reference discontinuities"],"fontSize":17.5},"width":358,"height":275,"data":{"name":"d"},"transform":[{"filter":"datum.p=='B3'"},{"fold":["s","h","m","o"],"as":["k","v"]}],
  "encoding":{"x":{"field":"x","type":"quantitative","scale":{"domain":[0,35],"nice":false},"axis":{"values":[0,5,10,15,20,25,30,35]}},"y":{"field":"v","type":"quantitative","scale":{"domain":[0,0.12],"nice":false},"axis":{"values":[0,0.02,0.04,0.06,0.08,0.1,0.12],"format":".2~f"}},
   "color":{"field":"k","type":"nominal","scale":{"domain":["s","h","m","o","h2","m2","o2"],"range":["#2a2a2a","#e0606a","#5cd65c","#5050aa","#d47a7a","#80e080","#6a6ab8"]},"legend":{"labelExpr":"{'s':'Simulated Signal','h':'Hard, Level Dependent','m':'Median, Level Dependent','o':'Soft, Level Dependent','h2':'Hard, Level Independent','m2':'Median, Level Independent','o2':'Soft, Level Independent'}[datum.value]","encode":{"symbols":{"update":{"shape":{"signal":"datum.value=='s' ? 'M-2,0H2' : 'M-2,0H-0.5M0.5,0H2M0.45,0A0.45,0.45,0,1,1,-0.45,0A0.45,0.45,0,1,1,0.45,0'"},"fill":{"value":"transparent"}}}}}},
   "strokeDash":{"field":"k","type":"nominal","scale":{"domain":["s","h","m","o","h2","m2","o2"],"range":[[1,0],[4,2.5],[4,2.5],[4,2.5],[4,2.5],[4,2.5],[4,2.5]]}}},
  "layer":[
   {"mark":{"type":"line","strokeWidth":0.8,"clip":true}},
   {"transform":[{"filter":"datum.k!='s'"}],"mark":{"type":"point","shape":"square","size":18,"strokeWidth":0.75,"filled":false,"clip":true},"encoding":{"strokeDash":{"value":[1,0]}}},
   {"transform":[{"filter":"datum.k=='s'"}],"mark":{"type":"point","shape":"circle","size":17,"strokeWidth":0.9,"filled":false,"clip":true},"encoding":{"y":{"datum":0},"color":{"value":"#4a8fc6"},"strokeDash":{"value":[1,0]}}}
  ]}
 ],"spacing":78,"bounds":"flush","title":{"text":"B","orient":"left","anchor":"end","angle":0,"font":"Liberation Serif","fontSize":17,"fontWeight":"bold","color":"#111","offset":28,"baseline":"top","align":"left"}}
],
"spacing":20
}
